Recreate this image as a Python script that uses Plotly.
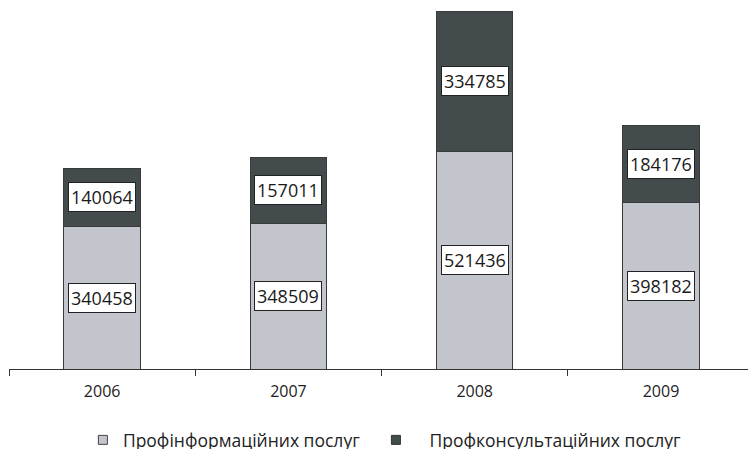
import plotly.graph_objects as go

years = ["2006", "2007", "2008", "2009"]
info = [340458, 348509, 521436, 398182]
consult = [140064, 157011, 334785, 184176]
names = ["Профінформаційних послуг", "Профконсультаційних послуг"]

light = "#c3c5cc"
dark = "#434b4d"
edge = "#3a3a3a"
font = "Open Sans"

fig = go.Figure()
fig.add_trace(go.Bar(x=years, y=info, name=names[0], showlegend=False,
                     marker=dict(color=light, line=dict(color=edge, width=1))))
fig.add_trace(go.Bar(x=years, y=consult, name=names[1], showlegend=False,
                     marker=dict(color=dark, line=dict(color=edge, width=1))))
# legend entries (small square swatches)
fig.add_trace(go.Scatter(x=[None], y=[None], mode="markers", name=names[0], legend="legend",
                         marker=dict(symbol="square", size=9, color=light, line=dict(color="#444", width=1))))
fig.add_trace(go.Scatter(x=[None], y=[None], mode="markers", name="\u00a0\u00a0\u00a0" + names[1], legend="legend2",
                         marker=dict(symbol="square", size=9, color=dark, line=dict(color="#333", width=1))))

anns = []
for i in range(len(years)):
    for val, mid in ((info[i], info[i] / 2), (consult[i], info[i] + consult[i] / 2)):
        anns.append(dict(x=i, y=mid, xref="x", yref="y", text=str(val), showarrow=False,
                         font=dict(family=font, size=18, color="#1a1a1a"),
                         bgcolor="white", bordercolor="#222", borderwidth=1, borderpad=2))

legfont = dict(family=font, size=17.5, color="#222")
fig.update_layout(
    barmode="stack", bargap=0.59,
    width=748, height=458,
    margin=dict(l=9, r=0, t=0, b=84),
    paper_bgcolor="white", plot_bgcolor="white",
    annotations=anns,
    showlegend=True,
    legend=dict(orientation="h", x=0.1, xanchor="left", y=-0.1925, yanchor="middle",
                font=legfont, itemwidth=30, bgcolor="rgba(0,0,0,0)"),
    legend2=dict(orientation="h", x=0.4965, xanchor="left", y=-0.1925, yanchor="middle",
                 font=legfont, itemwidth=30, bgcolor="rgba(0,0,0,0)"),
    xaxis=dict(type="category", range=[-0.5, 3.467], showline=True, linecolor="#333", linewidth=1,
               tickson="boundaries", ticks="outside", ticklen=6, tickcolor="#333",
               ticklabelstandoff=8,
               tickfont=dict(family=font, size=16, color="#222"), showgrid=False, zeroline=False),
    yaxis=dict(range=[0, 882650], visible=False, showgrid=False),
)

page_fix = ("document.documentElement.style.margin='0';"
            "document.documentElement.style.overflow='hidden';"
            "document.body.style.margin='0';"
            "document.body.style.overflow='hidden';")
fig.write_html("out.html", config={"displayModeBar": False}, post_script=page_fix)
